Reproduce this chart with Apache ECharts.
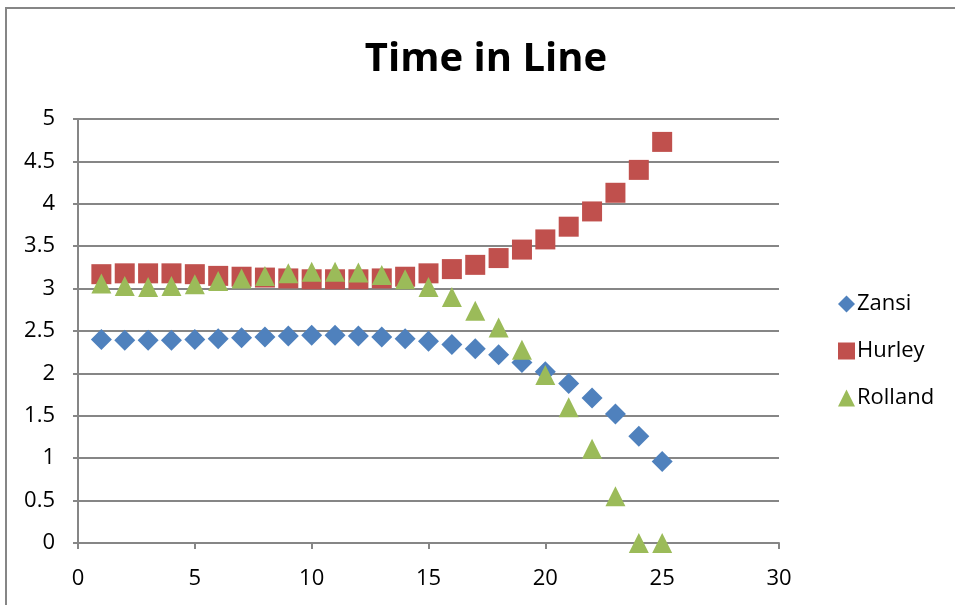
<!DOCTYPE html>
<html>
<head>
<meta charset="utf-8">
<title>Time in Line</title>
<script src="https://cdn.jsdelivr.net/npm/echarts@6/dist/echarts.min.js"></script>
<style>
  html, body { margin: 0; padding: 0; background: #fff; }
  #chart { width: 955px; height: 605px; }
</style>
</head>
<body>
<div id="chart"></div>
<script>
// Position in line (1..25) and the time each person spends there
const positions = [1,2,3,4,5,6,7,8,9,10,11,12,13,14,15,16,17,18,19,20,21,22,23,24,25];
const zansi   = [2.40,2.39,2.39,2.39,2.40,2.41,2.42,2.43,2.44,2.45,2.45,2.44,2.43,2.41,2.38,2.34,2.29,2.22,2.13,2.02,1.88,1.71,1.52,1.26,0.96];
const hurley  = [3.17,3.18,3.18,3.18,3.17,3.15,3.14,3.13,3.12,3.11,3.11,3.11,3.12,3.14,3.18,3.23,3.28,3.36,3.46,3.58,3.73,3.91,4.13,4.40,4.73];
const rolland = [3.06,3.03,3.02,3.03,3.05,3.09,3.12,3.15,3.18,3.20,3.20,3.19,3.16,3.11,3.02,2.90,2.74,2.54,2.28,1.98,1.60,1.11,0.55,0.00,0.00];
const seriesNames = ['Zansi', 'Hurley', 'Rolland'];

const FONT = '"Open Sans", "Noto Sans", sans-serif';
const GRID_COLOR = '#868686';

function pairs(ys) {
  return positions.map((x, i) => [x, ys[i]]);
}

const chart = echarts.init(document.getElementById('chart'), null, { renderer: 'canvas' });

chart.setOption({
  animation: false,
  backgroundColor: '#fff',
  title: {
    text: 'Time in Line',
    left: 481,
    textAlign: 'center',
    top: 35,
    textStyle: { fontFamily: FONT, fontWeight: 'bold', fontSize: 40, color: '#000' }
  },
  grid: { left: 78, right: 176, top: 119, bottom: 62 },
  legend: {
    orient: 'vertical',
    left: 833,
    top: 288,
    itemWidth: 17,
    itemHeight: 17,
    itemGap: 25,
    textStyle: { fontFamily: FONT, fontSize: 22, color: '#000', padding: [0, 0, 0, -3] },
    data: [
      { name: 'Zansi', icon: 'diamond' },
      { name: 'Hurley', icon: 'rect' },
      { name: 'Rolland', icon: 'triangle' }
    ]
  },
  xAxis: {
    type: 'value',
    min: 0, max: 30, interval: 5,
    axisLine: { show: true, lineStyle: { color: GRID_COLOR, width: 2 } },
    axisTick: { show: true, length: 6, lineStyle: { color: GRID_COLOR, width: 2 } },
    axisLabel: { margin: 25, fontFamily: FONT, fontSize: 22, color: '#000' },
    splitLine: { show: false }
  },
  yAxis: {
    type: 'value',
    min: 0, max: 5, interval: 0.5,
    axisLine: { show: true, lineStyle: { color: GRID_COLOR, width: 2 } },
    axisTick: { show: true, length: 5, lineStyle: { color: GRID_COLOR, width: 2 } },
    axisLabel: { margin: 23, fontFamily: FONT, fontSize: 22, color: '#000' },
    splitLine: { show: true, lineStyle: { color: GRID_COLOR, width: 2 } }
  },
  graphic: [{
    type: 'rect',
    shape: { x: 6, y: 8, width: 1200, height: 800 },
    style: { fill: 'none', stroke: GRID_COLOR, lineWidth: 2 },
    silent: true,
    z: -10
  }],
  series: [
    {
      name: seriesNames[0], type: 'scatter', data: pairs(zansi),
      symbol: 'diamond', symbolSize: 21,
      itemStyle: { color: '#4F81BD', opacity: 1 }, z: 2
    },
    {
      name: seriesNames[1], type: 'scatter', data: pairs(hurley),
      symbol: 'rect', symbolSize: 20,
      itemStyle: { color: '#C0504D', opacity: 1 }, z: 3
    },
    {
      name: seriesNames[2], type: 'scatter', data: pairs(rolland),
      symbol: 'triangle', symbolSize: 20,
      itemStyle: { color: '#9BBB59', opacity: 1 }, z: 4
    }
  ]
});
</script>
</body>
</html>
